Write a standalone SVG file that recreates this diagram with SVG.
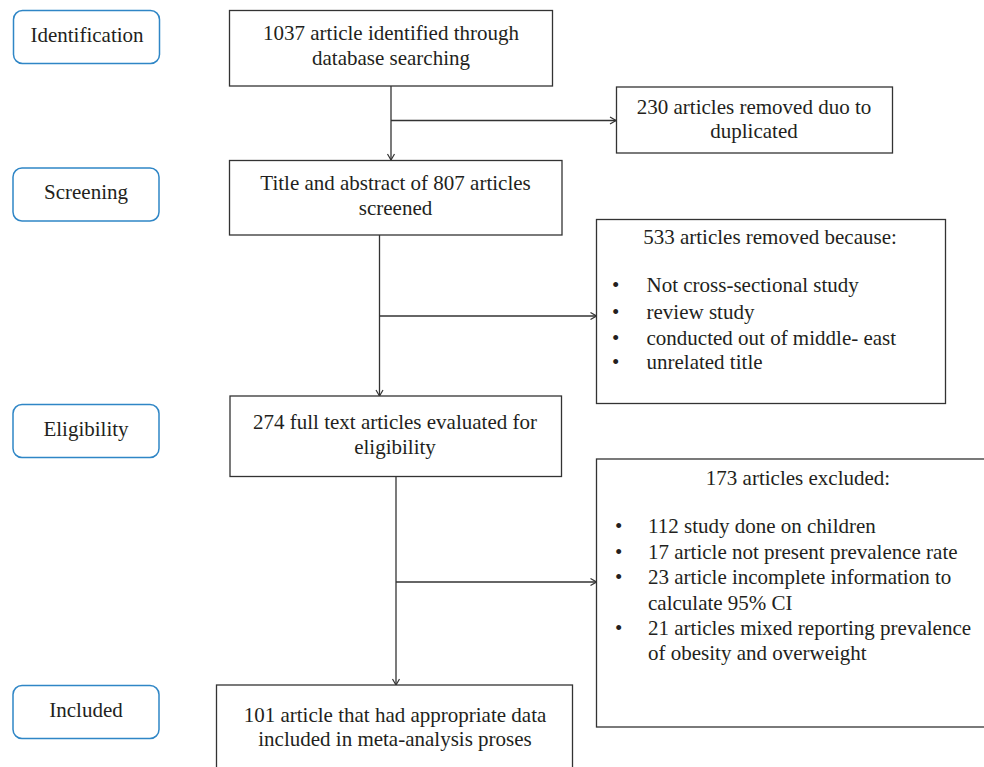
<svg xmlns="http://www.w3.org/2000/svg" width="984" height="767" viewBox="0 0 984 767">
<style>
.stage{fill:#fff;stroke:#2f86c6;stroke-width:1.5}
.box{fill:#fff;stroke:#333;stroke-width:1.3}
text{font-family:"Liberation Serif","Times New Roman",serif;font-size:21px;fill:#231f20}
.c{text-anchor:middle}
.conn{fill:none;stroke:#333;stroke-width:1.3}
</style>
<defs>
<marker id="arr" viewBox="0 0 10 10" refX="10" refY="5" markerWidth="10" markerHeight="10" markerUnits="userSpaceOnUse" orient="auto">
<polyline points="4,1.5 10,5 4,8.5" fill="none" stroke="#333" stroke-width="1.2"/>
</marker>
</defs>
<rect width="984" height="767" fill="#fff"/>
<g id="stage-identification"><rect class="stage" x="13.5" y="10.5" width="146" height="53" rx="9"/><text class="c" x="87" y="41.5">Identification</text></g>
<g id="stage-screening"><rect class="stage" x="13" y="168" width="146" height="53" rx="9"/><text class="c" x="86" y="199">Screening</text></g>
<g id="stage-eligibility"><rect class="stage" x="13" y="404.5" width="146" height="53" rx="9"/><text class="c" x="86" y="435.5">Eligibility</text></g>
<g id="stage-included"><rect class="stage" x="13" y="685.5" width="146" height="53" rx="9"/><text class="c" x="86" y="716.5">Included</text></g>
<g id="identified"><rect class="box" x="229.5" y="10.5" width="323" height="75.5"/><text class="c" x="391" y="39.5">1037 article identified through</text><text class="c" x="391" y="65">database searching</text></g>
<g id="duplicates"><rect class="box" x="616.5" y="87" width="276" height="66"/><text class="c" x="754" y="113.5">230 articles removed duo to</text><text class="c" x="754" y="138">duplicated</text></g>
<g id="screened"><rect class="box" x="229.5" y="160.5" width="332.5" height="74.5"/><text class="c" x="395.5" y="190">Title and abstract of 807 articles</text><text class="c" x="395.5" y="215">screened</text></g>
<g id="removed"><rect class="box" x="596.5" y="219.5" width="349" height="184"/><text class="c" x="770" y="244">533 articles removed because:</text>
<text x="612" y="292">•</text><text x="646.5" y="292">Not cross-sectional study</text>
<text x="612" y="319">•</text><text x="646.5" y="319">review study</text>
<text x="612" y="345">•</text><text x="646.5" y="345">conducted out of middle- east</text>
<text x="612" y="368.5">•</text><text x="646.5" y="368.5">unrelated title</text></g>
<g id="fulltext"><rect class="box" x="230" y="396" width="331.5" height="80.5"/><text class="c" x="395" y="428.5">274 full text articles evaluated for</text><text class="c" x="395" y="453.5">eligibility</text></g>
<g id="excluded"><rect class="box" x="596.5" y="459" width="403" height="268"/><text class="c" x="798" y="485">173 articles excluded:</text>
<text x="615" y="533">•</text><text x="648" y="533">112 study done on children</text>
<text x="615" y="558.5">•</text><text x="648" y="558.5">17 article not present prevalence rate</text>
<text x="615" y="584">•</text><text x="648" y="584">23 article incomplete information to</text>
<text x="648" y="609.5">calculate 95% CI</text>
<text x="615" y="635">•</text><text x="648" y="635">21 articles mixed reporting prevalence</text>
<text x="648" y="660">of obesity and overweight</text></g>
<g id="included"><rect class="box" x="216.5" y="685" width="356" height="90"/><text class="c" x="395" y="722">101 article that had appropriate data</text><text class="c" x="395" y="746">included in meta-analysis proses</text></g>
<g id="connectors">
<line class="conn" x1="391" y1="86" x2="391" y2="160" marker-end="url(#arr)"/>
<line class="conn" x1="391" y1="120.5" x2="616" y2="120.5" marker-end="url(#arr)"/>
<line class="conn" x1="379.5" y1="235" x2="379.5" y2="396" marker-end="url(#arr)"/>
<line class="conn" x1="379.5" y1="316" x2="596.5" y2="316" marker-end="url(#arr)"/>
<line class="conn" x1="396" y1="476.5" x2="396" y2="685" marker-end="url(#arr)"/>
<line class="conn" x1="396" y1="582" x2="596.5" y2="582" marker-end="url(#arr)"/>
</g>
</svg>
